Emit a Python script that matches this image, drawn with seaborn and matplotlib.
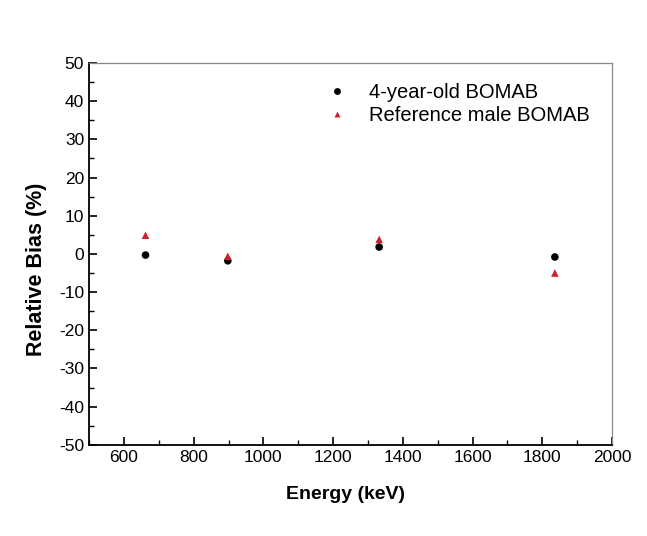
import matplotlib
matplotlib.use("Agg")
import matplotlib.pyplot as plt
import numpy as np
import pandas as pd
import seaborn as sns
from matplotlib.ticker import MultipleLocator

# data
energy = [662, 898, 1332, 1836]
bias_child = [-0.3, -1.8, 1.8, -0.8]
bias_ref = [4.9, -0.6, 3.8, -5.0]
series = ["4-year-old BOMAB", "Reference male BOMAB"]

df = pd.DataFrame({
    "Energy": energy * 2,
    "Bias": bias_child + bias_ref,
    "Phantom": [series[0]] * len(energy) + [series[1]] * len(energy),
})

sns.set_style("white")
plt.rcParams["font.family"] = ["Liberation Sans", "DejaVu Sans"]
plt.rcParams["axes.unicode_minus"] = False
plt.rcParams["text.color"] = "black"
plt.rcParams["axes.labelcolor"] = "black"
plt.rcParams["xtick.color"] = "black"
plt.rcParams["ytick.color"] = "black"

fig = plt.figure(figsize=(6.47, 5.36), dpi=100)
ax = fig.add_axes([0.1376, 0.170, 0.8084, 0.7125])

sns.scatterplot(data=df, x="Energy", y="Bias", hue="Phantom", style="Phantom",
                palette={series[0]: "black", series[1]: "#d0202e"},
                markers={series[0]: "o", series[1]: "^"},
                s=30, edgecolor="none", ax=ax)

ax.set_xlim(500, 2000)
ax.set_ylim(-50, 50)
ax.xaxis.set_major_locator(MultipleLocator(200))
ax.xaxis.set_minor_locator(MultipleLocator(100))
ax.yaxis.set_major_locator(MultipleLocator(10))
ax.yaxis.set_minor_locator(MultipleLocator(5))
ax.tick_params(which="both", direction="in", top=False, right=False,
               left=True, bottom=True, labelsize=12.5, color="black")
ax.tick_params(which="major", length=6, width=1.2)
ax.tick_params(which="minor", length=3.5, width=1.0)

for side in ["left", "bottom"]:
    ax.spines[side].set_color("black")
    ax.spines[side].set_linewidth(1.3)
for side in ["top", "right"]:
    ax.spines[side].set_color("#888888")
    ax.spines[side].set_linewidth(0.9)

ax.set_xlabel("Energy (keV)", fontsize=14, fontweight="bold")
ax.set_ylabel("Relative Bias (%)", fontsize=15.5, fontweight="bold")
ax.xaxis.set_label_coords(0.491, -0.108)
ax.yaxis.set_label_coords(-0.080, 0.46)

leg = ax.legend(loc="upper right", frameon=False, fontsize=14.5,
                bbox_to_anchor=(0.985, 0.985), handletextpad=0.6,
                markerscale=0.9, borderaxespad=0.3, labelspacing=0.2)

fig.savefig("out.png", dpi=100)
